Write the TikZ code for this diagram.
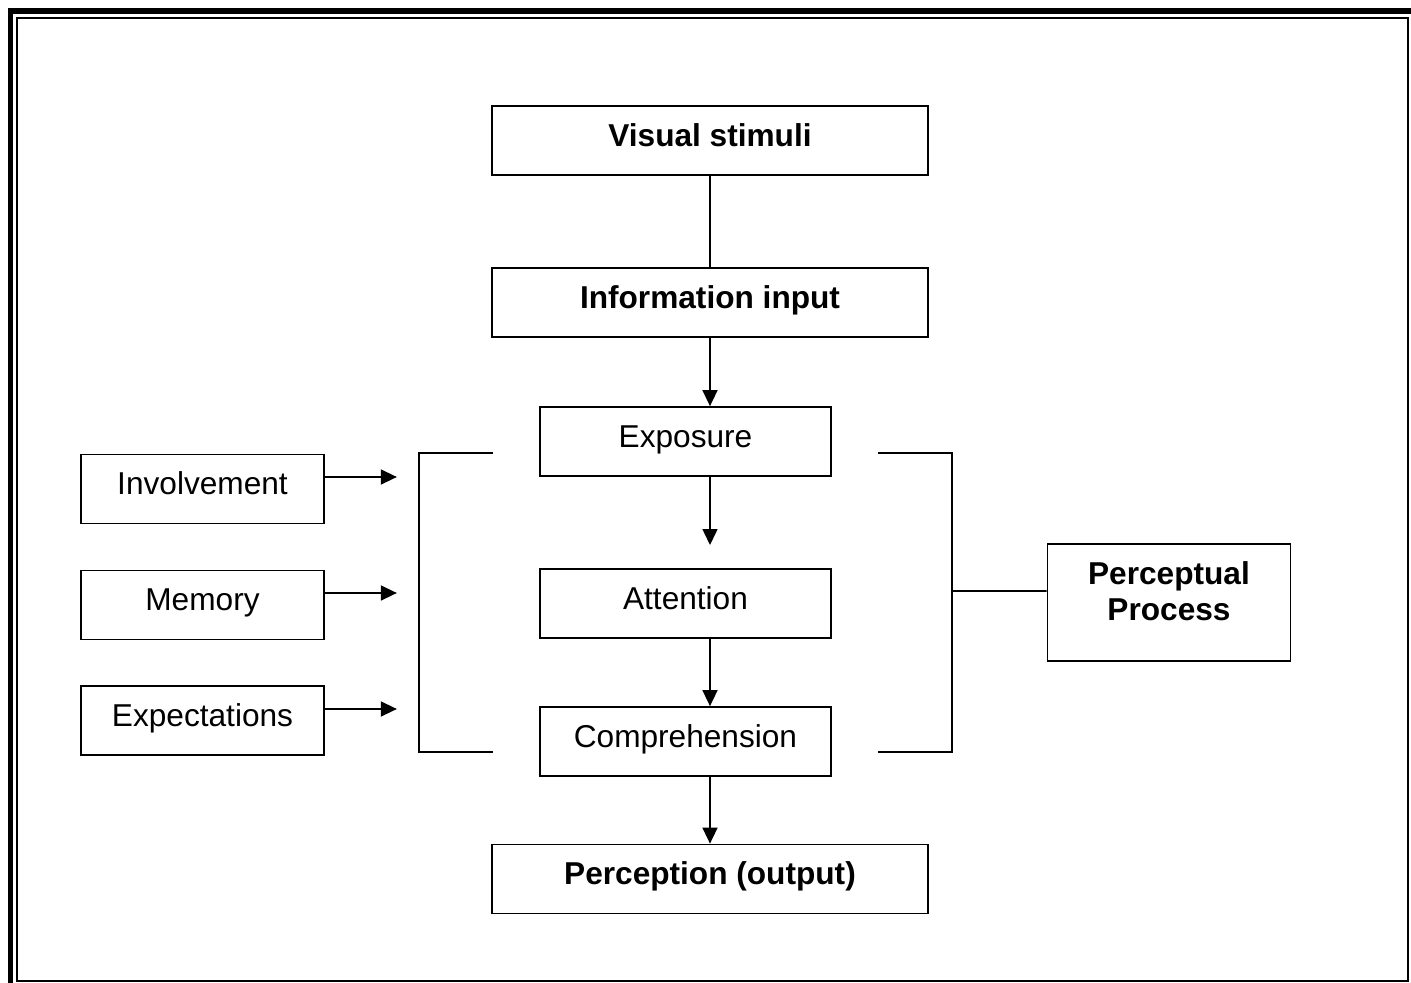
\documentclass[tikz,border=0pt]{standalone}
\usepackage{fontspec}
\setmainfont{Liberation Sans}
\usetikzlibrary{arrows.meta}

\begin{document}
\begin{tikzpicture}[x=0.02cm,y=-0.02cm]
    \tikzset{box/.style={draw, line width=1pt, minimum height=1.38cm, inner sep=0pt,
            text height=13pt, text depth=6.5pt, font=\fontsize{18}{21}\selectfont},
        wide/.style={box, minimum width=8.72cm, font=\fontsize{18}{21}\selectfont\bfseries},
        mid/.style={box, minimum width=5.82cm},
        side/.style={box, minimum width=4.86cm},
        flow/.style={-{Triangle[length=3.2mm,width=3mm]}, line width=0.9pt}}
    \useasboundingbox (0,0) rectangle (1411,983);

    % frame
    \draw[line width=3.4pt] (10.5,983) -- (10.5,11) -- (1411,11);
    \draw[line width=1.1pt] (17,18) rectangle (1408,981);

    \node[wide] (stimuli) at (710,140.5) {Visual stimuli};
    \node[wide] (input) at (710,302.5) {Information input};
    \node[mid] (exposure) at (685.5,441.5) {Exposure};
    \node[mid] (attention) at (685.5,603.5) {Attention};
    \node[mid] (compre) at (685.5,741.5) {Comprehension};
    \node[wide] (output) at (710,879) {Perception (output)};

    \node[side] (involve) at (202.5,489) {Involvement};
    \node[side] (memory) at (202.5,605) {Memory};
    \node[side] (expect) at (202.5,720.5) {Expectations};

    \node[side, minimum height=2.34cm,
        label={[align=center, font=\fontsize{18}{20.5}\selectfont\bfseries, yshift=0.23cm]center:Perceptual\\Process}]
        (percept) at (1169,602.5) {};

    \coordinate (gap) at (710,545);

    \draw[line width=0.6pt] (stimuli) -- (input);
    \draw[flow] (input) -- (input.south |- exposure.north);
    \draw[flow] (exposure.south -| input.south) -- (gap);
    \draw[flow] (attention.south -| input.south) -- (input.south |- compre.north);
    \draw[flow] (compre.south -| input.south) -- (output);

    \draw[flow] ([yshift=0.24cm]involve.east) -- ++(72,0);
    \draw[flow] ([yshift=0.24cm]memory.east) -- ++(72,0);
    \draw[flow] ([yshift=0.23cm]expect.east) -- ++(72,0);

    % brackets
    \draw[line width=0.9pt] (493,453) -- (419,453) -- (419,752) -- (493,752);
    \draw[line width=0.9pt] (878,453) -- (952,453) -- (952,752) -- (878,752);
    \draw[line width=0.9pt] (952,591) -- ([yshift=0.23cm]percept.west);
\end{tikzpicture}
\end{document}
